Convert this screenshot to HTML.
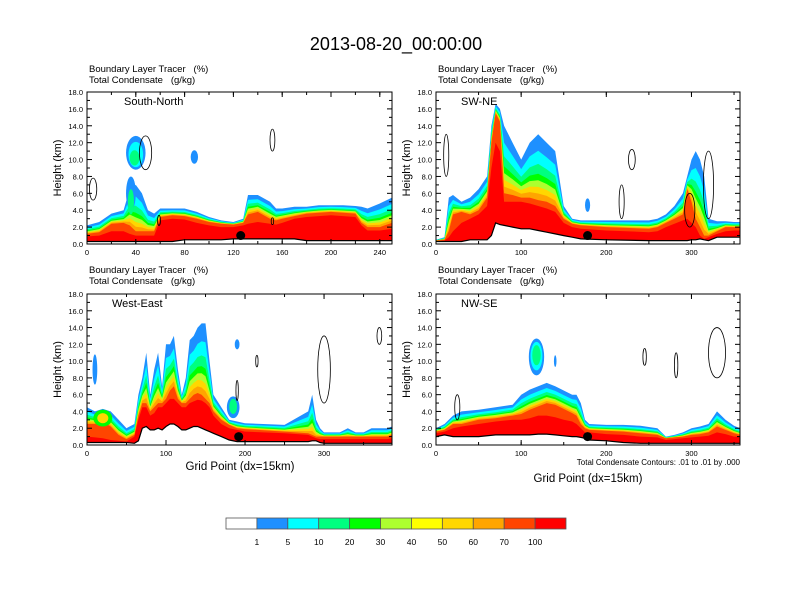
<!DOCTYPE html>
<html><head><meta charset="utf-8"><style>
html,body{margin:0;padding:0;background:#fff}
svg{display:block;font-family:"Liberation Sans",sans-serif}
text{white-space:pre}
</style></head><body>
<svg id="fig" width="792" height="612" viewBox="0 0 792 612">
<text x="396" y="50" font-size="18" text-anchor="middle">2013-08-20_00:00:00</text>
<g id="panels"></g>
<g id="colorbar"></g>
<text x="240" y="470" font-size="11.5" text-anchor="middle">Grid Point (dx=15km)</text>
<text x="588" y="482" font-size="11.5" text-anchor="middle">Grid Point (dx=15km)</text>
<text x="740" y="465" font-size="8" text-anchor="end">Total Condensate Contours: .01 to .01 by .000</text>
</svg>
<script>
// ---- data ----
const tlX=[0,10,20,30,35,40,45,50,55,60,70,80,90,100,110,120,128,132,140,150,155,160,170,180,190,200,210,220,225,230,240,250];
const tlTop=[2.2,2.6,3.6,4,6.5,7,6,4,3.6,4.2,4.2,4.2,3.8,3.2,2.8,2.6,3,5.8,5.8,5,4.2,4.2,4.4,4.4,4.6,4.6,4.6,4.5,4.4,4.2,4.8,5.5];
const tlCore=[1.2,1.4,2.4,2.5,2.2,1.5,1.5,1.5,1.5,3.2,3.4,3.3,3,2.6,2.4,2.3,2.5,3.5,3.8,3,2.8,3,3.3,3.6,3.7,3.8,3.7,3.6,2.5,2,2,2.5];
const tlRed=[0.9,1,1.5,1.5,1.2,1,1,1,1,2.8,3,2.9,2.5,2.2,2,2,2.2,2.4,2.6,2.4,2.3,2.5,3,3.2,3.3,3.4,3.3,3.2,2.2,1.6,1.6,1.8];
const tlGround=[0.3,0.3,0.3,0.3,0.3,0.3,0.3,0.3,0.3,0.3,0.3,0.5,0.5,0.5,0.5,0.6,0.6,0.6,0.6,0.6,0.6,0.6,0.6,0.4,0.4,0.4,0.4,0.4,0.4,0.4,0.4,0.4];

const trX=[0,10,15,20,30,40,50,60,65,70,75,80,90,100,110,120,130,140,150,160,170,200,250,260,270,280,290,295,300,305,310,315,320,330,340,350,357];
const trTop=[0.5,0.8,5.5,5.8,5,5.5,6.5,8,14,16.6,16,14,12,10,12,13,12,11,4.5,3,2.8,2.8,2.8,3,3.5,4.5,6,8,10,11,10,8,3,2.7,2.7,2.6,2.6];
const trCore=[0.4,0.5,1.5,3.5,3.8,3.5,4,5.5,12,15.5,14.5,6,5.8,5.5,5.5,5.2,5,4.5,3,2.4,2.2,2,1.8,2,2.5,3,3.5,6.5,5,3,2,1,1,1.5,2,2,2];
const trRed=[0.3,0.4,0.8,1.5,2.5,3,3.5,4.5,9,12,11,5,5,5,4.8,4.5,4.2,3.8,2.5,2,1.8,1.6,1.4,1.5,2,2.4,2.8,3,2.5,2,1,0.6,0.8,1.2,1.5,1.6,1.6];
const trGround=[0.3,0.3,0.3,0.3,0.3,0.5,0.5,0.5,1,2.5,2.3,2.2,2,1.8,1.8,1.6,1.4,1.2,1,0.8,0.6,0.5,0.4,0.4,0.4,0.4,0.4,0.4,0.5,0.5,0.6,0.5,0.4,0.8,0.8,0.8,0.8];

const blX=[0,10,20,30,40,50,60,65,70,75,80,85,90,95,100,105,110,115,120,125,130,135,140,145,150,155,160,170,180,190,200,250,280,285,290,295,300,320,330,340,350,360,370,380,386];
const blTop=[4.5,4,4.3,4,3,2,2.5,6,8,11,6,9,11,7,12,12,13,9,6,8,12.5,13,14,14.5,14.5,10,6,4.5,3,2.8,2.6,2.4,4,6,3,2,1.5,1.5,2,1.5,1.5,2,2,2,2.2];
const blCore=[2.5,2.5,2.8,2.2,1.2,0.7,1.2,3.5,5,5,4,4.5,5,5,5.5,6.5,7,5.5,5,5,5.5,6,6.2,6,5.5,5,4,3,2.4,2,1.9,1.6,1.4,1.2,1,1,1,1,1,1,1,1,1,1,1.2];
const blRed=[1,0.9,0.8,0.6,0.5,0.4,1,3,4.5,4.5,3.5,3.8,4.5,4.5,5,5.5,5.5,5,4.5,4.5,5,5.2,5.4,5.3,5,4.5,3.5,2.5,2,1.8,1.6,1.4,1.2,1,0.8,0.7,0.7,0.7,0.7,0.7,0.7,0.7,0.7,0.7,0.8];
const blGround=[0.3,0.3,0.3,0.3,0.3,0.3,0.2,0.5,2,2.2,1.8,1.8,2,1.8,2.2,2.5,2.5,2.2,1.8,1.8,2,2.2,2.2,2,1.8,1.6,1.4,1,0.6,0.4,0.4,0.4,0.4,0.5,0.5,0.3,0.2,0.2,0.2,0.2,0.2,0.2,0.2,0.2,0.2];

const brX=[0,10,20,30,50,70,90,100,110,120,130,140,150,160,165,170,175,180,200,220,240,260,270,280,290,300,310,320,330,340,350,357];
const brTop=[2,2.5,3.5,4,4.2,4.5,4.8,6,6.6,7,7.4,7,6.5,6,6,5,3,2.5,2.4,2.4,2.3,2,1,1.2,1.5,2,2.2,2.5,4,3,2.3,2];
const brCore=[1.6,1.8,2.5,2.5,3,3.2,3.5,3.7,4.2,4.6,5,4.8,4.3,3.8,3.5,2.5,2,1.8,1.7,1.6,1.4,1.2,0.8,0.9,1,1.2,1.3,1.5,2.2,1.8,1.4,1.2];
const brRed=[1.4,1.6,2,2.2,2.5,2.8,3,3,3.2,3.5,3.5,3.3,3,2.8,2.5,2,1.5,1.5,1.3,1.2,1,0.9,0.6,0.7,0.8,0.9,1,1.1,1.5,1.3,1,1];
const brGround=[1,1.2,1,1,1,1.2,1.2,1.2,1.2,1.3,1.3,1.2,1.1,1,1,0.9,0.8,0.6,0.5,0.3,0.2,0.2,0.2,0.2,0.2,0.2,0.2,0.2,0.2,0.2,0.2,0.2];

// blobs: [x, height, rx(grid), ry(km), level]
const tlBlobs=[[40,10.8,8,2,0],[40,10.6,6,1.5,1],[39,10.2,4,0.9,2],[88,10.3,3,0.8,0],[36,6,4,2,0],[36,5,2.5,1.5,2]];
const trBlobs=[[178,4.6,3,0.8,0]];
const blBlobs=[[10,9,3,1.8,0],[20,3.2,12,1,3],[20,3.2,7,0.6,5],[185,4.5,8,1.3,0],[185,4.6,5,0.9,2],[190,12,3,0.6,0]];
const brBlobs=[[118,10.5,9,2.2,0],[118,10.6,7,1.7,1],[118,10.7,5,1.2,2],[140,10,1.5,0.7,0]];
// contour outlines: [x, height, rx(grid), ry(km)]
const tlOutlines=[[48,10.8,5,2],[152,12.3,2,1.3],[5,6.5,3,1.3],[59,2.8,1.2,0.6],[152,2.7,1,0.4]];
const trOutlines=[[12,10.5,3,2.5],[230,10,4,1.2],[218,5,3,2],[320,7,6,4],[298,4,6,2]];
const blOutlines=[[300,9,8,4],[215,10,1.5,0.7],[190,6.5,1.5,1.2],[370,13,3,1]];
const brOutlines=[[330,11,10,3],[245,10.5,2,1],[282,9.5,2,1.5],[25,4.5,3,1.5]];
const markers=[126,178,192,178];

const cbLabels=["1","5","10","20","30","40","50","60","70","100"];
const cbColors=["#ffffff","#1e90ff","#00ffff","#00ff80","#00ff00","#adff2f","#ffff00","#ffd700","#ffa500","#ff4500","#ff0000"];

const NS="http://www.w3.org/2000/svg";
function mk(tag,attrs,parent){const e=document.createElementNS(NS,tag);for(const k in attrs)e.setAttribute(k,attrs[k]);parent.appendChild(e);return e;}

const panels=[
 {name:"south-north",label:"South-North",x0:87,x1:392,y0:244,y1:92,xmax:250,ticks:[0,40,80,120,160,200,240],minor:20,xs:tlX,T:tlTop,C:tlCore,R:tlRed,G:tlGround,blobs:tlBlobs,ol:tlOutlines,mk:markers[0],hy:72,lx:37},
 {name:"sw-ne",label:"SW-NE",x0:436,x1:740,y0:244,y1:92,xmax:357,ticks:[0,100,200,300],minor:50,xs:trX,T:trTop,C:trCore,R:trRed,G:trGround,blobs:trBlobs,ol:trOutlines,mk:markers[1],hy:72,lx:25},
 {name:"west-east",label:"West-East",x0:87,x1:392,y0:445,y1:294,xmax:386,ticks:[0,100,200,300],minor:50,xs:blX,T:blTop,C:blCore,R:blRed,G:blGround,blobs:blBlobs,ol:blOutlines,mk:markers[2],hy:273,lx:25},
 {name:"nw-se",label:"NW-SE",x0:436,x1:740,y0:445,y1:294,xmax:357,ticks:[0,100,200,300],minor:50,xs:brX,T:brTop,C:brCore,R:brRed,G:brGround,blobs:brBlobs,ol:brOutlines,mk:markers[3],hy:273,lx:25}
];
const bandF=[1,0.75,0.55,0.4,0.3,0.2,0.1];
const bandC=["#1e90ff","#00ffff","#00ff80","#00ff00","#adff2f","#ffd700","#ffa500"];

const root=document.getElementById('panels');
panels.forEach(p=>{
 const g=mk('g',{},root);
 
 
 const sx=v=>p.x0+(p.x1-p.x0)*v/p.xmax;
 const sy=v=>p.y0+(p.y1-p.y0)*v/18;
 const clipId='clip-'+p.name;
 const cp=mk('clipPath',{id:clipId},g);
 mk('rect',{x:p.x0,y:p.y1,width:p.x1-p.x0,height:p.y0-p.y1},cp);
 const plot=mk('g',{'clip-path':'url(#'+clipId+')'},g);
 const base=p.xs.map((x,i)=>sx(x).toFixed(1)+','+sy(p.G[i]).toFixed(1)).reverse().join(' ');
 function band(fn,color,nm){
  const pts=p.xs.map((x,i)=>sx(x).toFixed(1)+','+sy(fn(i)).toFixed(1)).join(' ');
  const e=mk('polygon',{points:pts+' '+base,fill:color},plot);
  
  
 }
 bandF.forEach((f,k)=>band(i=>p.C[i]+(p.T[i]-p.C[i])*f,bandC[k],'band-'+k));
 band(i=>p.C[i],"#ff4500",'band-orangered');
 band(i=>p.R[i],"#ff0000",'band-red');
 p.blobs.forEach(b=>{
  const e=mk('ellipse',{cx:sx(b[0]),cy:sy(b[1]),rx:Math.abs(sx(b[2])-sx(0)),ry:Math.abs(sy(b[3])-sy(0)),fill:bandC[b[4]]},plot);
  
  
 });
 p.ol.forEach(b=>{
  const e=mk('ellipse',{cx:sx(b[0]),cy:sy(b[1]),rx:Math.abs(sx(b[2])-sx(0)),ry:Math.abs(sy(b[3])-sy(0)),fill:'none',stroke:'#000','stroke-width':0.8},plot);
  
  
 });
 const gl=mk('polyline',{points:p.xs.map((x,i)=>sx(x).toFixed(1)+','+sy(p.G[i]).toFixed(1)).join(' '),fill:'none',stroke:'#000','stroke-width':1.2},plot);
 
 
 const dot=mk('circle',{cx:sx(p.mk),cy:sy(1.0),r:4.5,fill:'#000'},plot);
 
 
 const fr=mk('rect',{x:p.x0,y:p.y1,width:p.x1-p.x0,height:p.y0-p.y1,fill:'none',stroke:'#000','stroke-width':1},g);
 
 
 for(let v=0;v<=18;v+=2){
  const y=sy(v);
  mk('line',{x1:p.x0,x2:p.x0+5,y1:y,y2:y,stroke:'#000'},g);
  mk('line',{x1:p.x1,x2:p.x1-5,y1:y,y2:y,stroke:'#000'},g);
  if(v<18){mk('line',{x1:p.x0,x2:p.x0+3,y1:sy(v+1),y2:sy(v+1),stroke:'#000'},g);mk('line',{x1:p.x1,x2:p.x1-3,y1:sy(v+1),y2:sy(v+1),stroke:'#000'},g);}
  const t=mk('text',{x:p.x0-4,y:y+3,'font-size':7.5,'text-anchor':'end'},g);
  t.textContent=v.toFixed(1);
  
  
 }
 for(let v=0;v<=p.xmax;v+=p.minor){
  const x=sx(v);
  mk('line',{x1:x,x2:x,y1:p.y0,y2:p.y0-3,stroke:'#000'},g);
  mk('line',{x1:x,x2:x,y1:p.y1,y2:p.y1+3,stroke:'#000'},g);
 }
 p.ticks.forEach(v=>{
  const x=sx(v);
  mk('line',{x1:x,x2:x,y1:p.y0,y2:p.y0-5,stroke:'#000'},g);
  mk('line',{x1:x,x2:x,y1:p.y1,y2:p.y1+5,stroke:'#000'},g);
  const t=mk('text',{x:x,y:p.y0+11,'font-size':7.5,'text-anchor':'middle'},g);
  t.textContent=v;
  
  
 });
 const yl=mk('text',{x:0,y:0,'font-size':11,'text-anchor':'middle',transform:`translate(${p.x0-26},${(p.y0+p.y1)/2}) rotate(-90)`},g);
 yl.textContent='Height (km)';
 
 
 const h1=mk('text',{x:p.x0+2,y:p.hy,'font-size':9.5},g);
 h1.textContent='Boundary Layer Tracer   (%)';
 
 
 const h2=mk('text',{x:p.x0+2,y:p.hy+11,'font-size':9.5},g);
 h2.textContent='Total Condensate   (g/kg)';
 
 
 const lb=mk('text',{x:p.x0+p.lx,y:p.y1+13,'font-size':11},g);
 lb.textContent=p.label;
 
 
});

const cb=document.getElementById('colorbar');
const cbx=226,cbw=340,cby=518,cbh=11,bw=cbw/cbColors.length;
cbColors.forEach((c,i)=>{
 const r=mk('rect',{x:cbx+i*bw,y:cby,width:bw,height:cbh,fill:c,stroke:'#555','stroke-width':0.8},cb);
 
 
});
cbLabels.forEach((l,i)=>{
 const t=mk('text',{x:cbx+(i+1)*bw,y:cby+27,'font-size':8.5,'text-anchor':'middle'},cb);
 t.textContent=l;
 
 
});
</script>
</body></html>
